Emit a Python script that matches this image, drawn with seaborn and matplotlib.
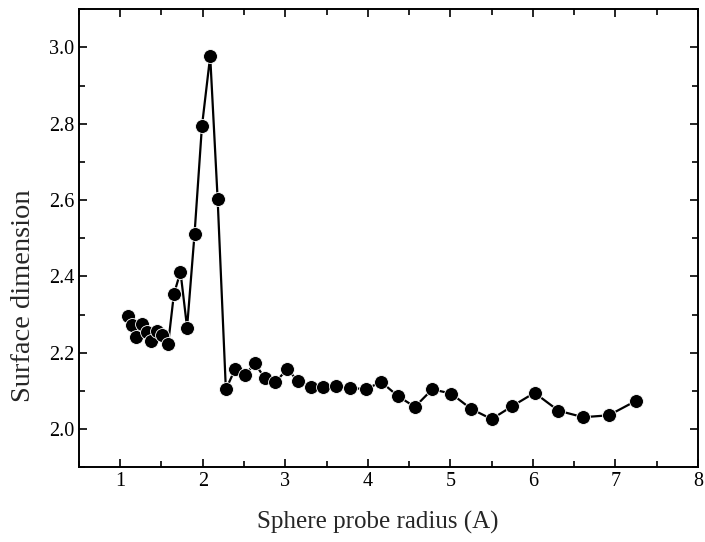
import numpy as np
import pandas as pd
import matplotlib
matplotlib.use("Agg")
import matplotlib.pyplot as plt
from matplotlib.ticker import MultipleLocator
import seaborn as sns

probe_radius = [1.09, 1.14, 1.19, 1.26, 1.32, 1.37, 1.44, 1.51, 1.58, 1.65,
                1.73, 1.81, 1.90, 1.99, 2.09, 2.18, 2.28, 2.39, 2.51, 2.63,
                2.75, 2.88, 3.02, 3.16, 3.31, 3.46, 3.62, 3.79, 3.98, 4.16,
                4.36, 4.57, 4.78, 5.01, 5.25, 5.50, 5.75, 6.02, 6.31, 6.61,
                6.92, 7.25]
surface_dim = [2.297, 2.272, 2.242, 2.275, 2.255, 2.230, 2.256, 2.246, 2.222, 2.353,
               2.412, 2.266, 2.510, 2.793, 2.977, 2.604, 2.104, 2.156, 2.141, 2.172,
               2.134, 2.123, 2.156, 2.126, 2.111, 2.109, 2.113, 2.108, 2.104, 2.124,
               2.087, 2.058, 2.104, 2.093, 2.053, 2.026, 2.060, 2.095, 2.048, 2.031,
               2.036, 2.074]

df = pd.DataFrame({"r": probe_radius, "d": surface_dim})

sns.set_style("ticks")
plt.rcParams["font.family"] = ["Liberation Serif", "DejaVu Serif"]

fig = plt.figure(figsize=(7.05, 5.42), dpi=100)
ax = fig.add_axes([0.112, 0.138, 0.878, 0.845])

sns.lineplot(data=df, x="r", y="d", ax=ax, color="black", linewidth=1.6,
             marker="o", markersize=10, markeredgecolor="white",
             markeredgewidth=0.6, sort=False)

ax.set_xlim(0.5, 8)
ax.set_ylim(1.9, 3.1)
ax.xaxis.set_major_locator(MultipleLocator(1))
ax.xaxis.set_minor_locator(MultipleLocator(0.5))
ax.yaxis.set_major_locator(MultipleLocator(0.2))
ax.yaxis.set_minor_locator(MultipleLocator(0.1))
ax.yaxis.set_major_formatter(matplotlib.ticker.FormatStrFormatter("%.1f"))

ax.tick_params(which="both", direction="in", top=True, right=True,
               width=1.2, labelsize=14.5, colors="black")
ax.tick_params(which="major", length=6)
ax.tick_params(which="minor", length=4)
for s in ax.spines.values():
    s.set_linewidth(1.4)
    s.set_color("black")

ax.set_xlabel("Sphere probe radius (A)", fontsize=18)
ax.set_ylabel("Surface dimension", fontsize=20.5)
# labels sit a little off-centre in the original
ax.xaxis.set_label_coords(0.482, -0.095)
ax.yaxis.set_label_coords(-0.07, 0.375)

fig.savefig("out.png", dpi=100)
